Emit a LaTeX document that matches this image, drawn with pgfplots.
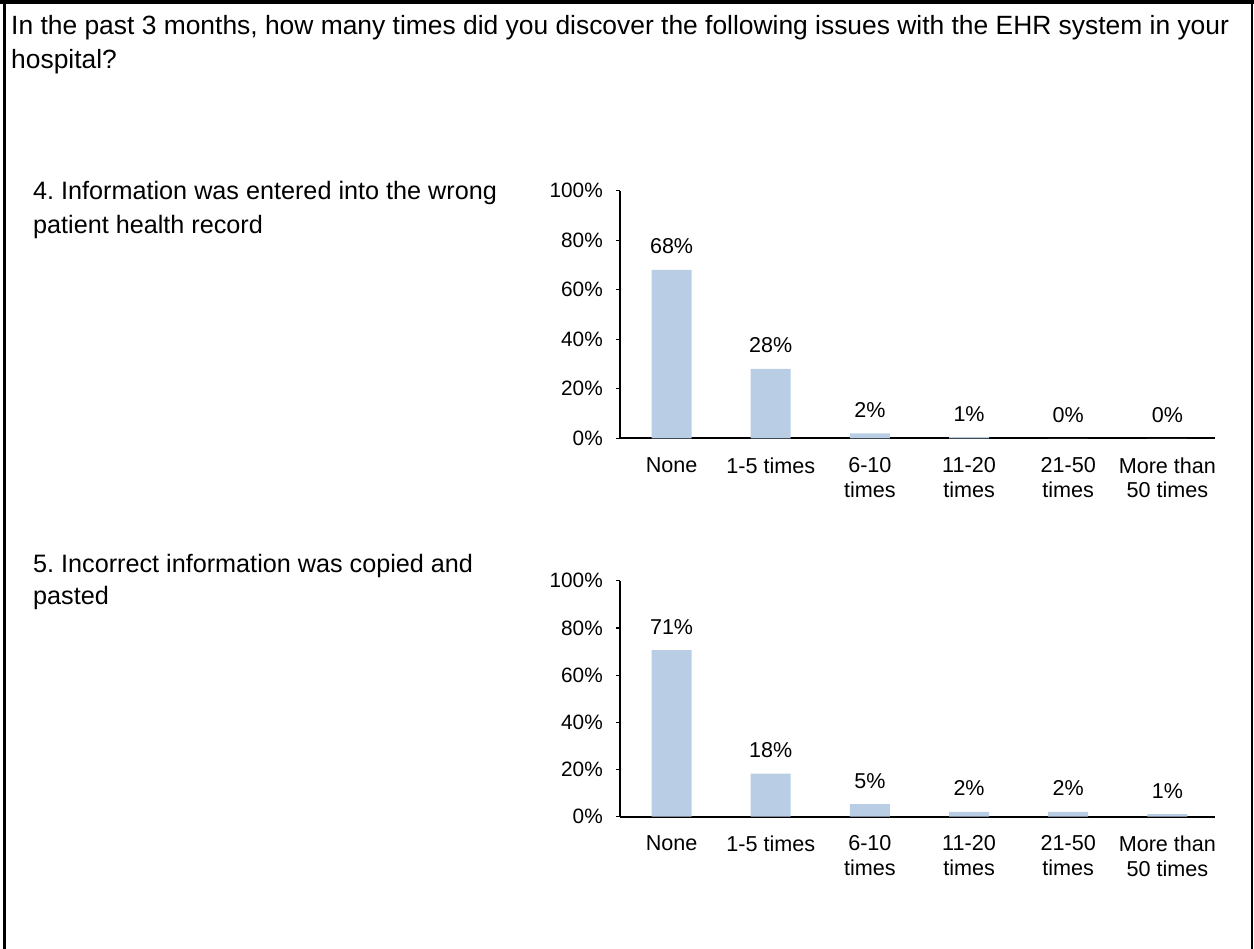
\documentclass[border=0pt]{standalone}
\usepackage{fontspec}
\setmainfont{Liberation Sans}
\usepackage{pgfplots}
\pgfplotsset{compat=1.18}
\usepackage{pgfplotstable}
\definecolor{barblue}{HTML}{B9CDE5}
\frenchspacing

\pgfplotstableread{
x y lab
0 68 68
1 28 28
2 2 2
3 0.5 1
4 0 0
5 0 0
}\dataA

\pgfplotstableread{
x y lab
0 70.6 71
1 18.3 18
2 5.3 5
3 2 2
4 2 2
5 1.1 1
}\dataB

\pgfplotsset{mystyle/.style={
  scale only axis, width=595pt,
  ybar, bar width=40pt,
  xmin=-0.52, xmax=5.48, ymin=0, ymax=100,
  axis x line=bottom, axis y line=left,
  axis line style={-, line width=1.8pt, black},
  xtick={0,...,5},
  xticklabels={None,1-5 times,{6-10\\times},{11-20\\times},{21-50\\times},{More than\\50 times}},
  xtick style={draw=none},
  ytick={0,20,...,100},
  yticklabel={\pgfmathprintnumber{\tick}\%},
  ytick style={black, line width=1.2pt},
  tick align=outside, major tick length=4pt,
  xticklabel style={font=\fontsize{21.6}{24.5}\selectfont, align=center, anchor=north, inner sep=0pt, yshift=-15pt},
  yticklabel style={font=\fontsize{20.8}{24}\selectfont, anchor=east, inner sep=0pt, xshift=-13pt},
  /pgf/number format/assume math mode=true,
  point meta=explicit symbolic,
  nodes near coords={\pgfplotspointmeta\%},
  every node near coord/.append style={font=\fontsize{21.5}{24}\selectfont, anchor=base, inner sep=0pt, yshift=16pt},
  clip=false,
}}

\begin{document}
\begin{tikzpicture}
\useasboundingbox (0,0) rectangle (1254pt,-949pt);
\fill[white] (0,0) rectangle (1254pt,-949pt);
\draw[line width=4pt] (0,-2pt) -- (1254pt,-2pt);
\draw[line width=2.5pt] (4.5pt,0) -- (4.5pt,-949pt);
\draw[line width=2.5pt] (1252pt,0) -- (1252pt,-949pt);

\node[anchor=base west, inner sep=0pt, font=\fontsize{26.4}{33}\selectfont] at (11pt,-35pt) {In the past 3 months, how many times did you discover the following issues with the EHR system in your};
\node[anchor=base west, inner sep=0pt, font=\fontsize{26.4}{33}\selectfont] at (11pt,-68.3pt) {hospital?};

\node[anchor=base west, inner sep=0pt, font=\fontsize{25.2}{33}\selectfont] at (33pt,-200pt) {4. Information was entered into the wrong};
\node[anchor=base west, inner sep=0pt, font=\fontsize{25.2}{33}\selectfont] at (33pt,-233.3pt) {patient health record};

\node[anchor=base west, inner sep=0pt, font=\fontsize{25.2}{33}\selectfont] at (33pt,-572.7pt) {5. Incorrect information was copied and};
\node[anchor=base west, inner sep=0pt, font=\fontsize{25.2}{33}\selectfont] at (33pt,-605pt) {pasted};

\begin{axis}[mystyle, height=247.6pt, at={(620pt,-438.3pt)}, anchor=south west]
\addplot[fill=barblue, draw=none] table[x=x, y=y, meta=lab] {\dataA};
\end{axis}

\begin{axis}[mystyle, height=236pt, at={(620pt,-816.7pt)}, anchor=south west]
\addplot[fill=barblue, draw=none] table[x=x, y=y, meta=lab] {\dataB};
\end{axis}
\end{tikzpicture}
\end{document}
